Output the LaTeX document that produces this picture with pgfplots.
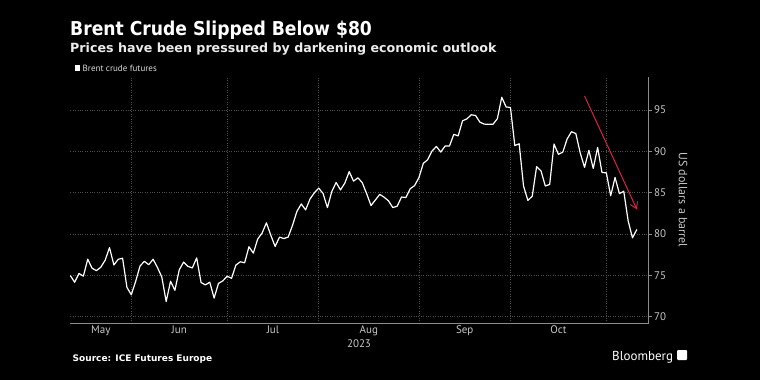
\documentclass[border=0pt]{standalone}
\usepackage{fontspec}
\setmainfont{PT Sans}
\newfontfamily\dvs{DejaVu Sans}
\newfontfamily\dvsc{DejaVu Sans Condensed}
\usepackage{pgfplots}
\pgfplotsset{compat=1.18}
\usetikzlibrary{arrows.meta}
\definecolor{gridc}{HTML}{505050}
\definecolor{axc}{HTML}{8C8C8C}
\definecolor{tickc}{HTML}{C8C8C8}
\definecolor{arrowc}{HTML}{D7263D}
\pgfplotstableread{
x y
0 74.98
1 74.17
2 75.23
3 74.91
4 76.96
5 75.86
6 75.58
7 75.99
8 76.84
9 78.36
10 76.26
11 76.95
12 77.07
13 73.54
14 72.66
15 74.28
16 76.13
17 76.71
18 76.29
19 76.95
20 75.96
21 74.79
22 71.84
23 74.29
24 73.20
25 75.67
26 76.61
27 76.09
28 75.90
29 77.12
30 74.14
31 73.85
32 74.18
33 72.26
34 74.03
35 74.34
36 74.90
37 74.65
38 76.25
39 76.65
40 76.52
41 78.47
42 77.69
43 79.40
44 80.11
45 81.36
46 79.87
47 78.50
48 79.63
49 79.46
50 79.64
51 81.07
52 82.74
53 83.64
54 82.92
55 84.24
56 84.99
57 85.56
58 84.91
59 83.20
60 85.14
61 86.24
62 85.34
63 86.17
64 87.55
65 86.40
66 86.81
67 86.21
68 84.89
69 83.45
70 84.12
71 84.80
72 84.46
73 84.03
74 83.21
75 83.36
76 84.48
77 84.42
78 85.49
79 85.86
80 86.83
81 88.55
82 88.99
83 90.04
84 90.60
85 89.92
86 90.65
87 90.64
88 92.06
89 91.88
90 93.70
91 93.93
92 94.43
93 94.34
94 93.53
95 93.30
96 93.27
97 93.29
98 93.96
99 96.55
100 95.38
101 95.31
102 90.71
103 90.92
104 85.81
105 84.07
106 84.58
107 88.15
108 87.65
109 85.82
110 86.00
111 90.89
112 89.65
113 89.90
114 91.50
115 92.38
116 92.16
117 89.83
118 88.07
119 90.13
120 87.93
121 90.48
122 87.45
123 87.41
124 84.63
125 86.85
126 84.89
127 85.18
128 81.61
129 79.54
130 80.55
}\brent
\begin{document}
\begin{tikzpicture}
\fill[black] (0pt,0pt) rectangle (760pt,-380pt);
\path[use as bounding box] (0pt,0pt) rectangle (760pt,-380pt);
\node[anchor=base west, inner sep=0pt, text=white, font=\dvsc\fontsize{19.1}{22}\selectfont\bfseries] at (70pt,-35pt) {Brent Crude Slipped Below \$80};
\node[anchor=base west, inner sep=0pt, text=white!92!black, font=\dvs\fontsize{12.65}{15}\selectfont\bfseries] at (70pt,-52pt) {Prices have been pressured by darkening economic outlook};
\fill[white] (74.5pt,-65pt) rectangle (80pt,-71pt);
\node[anchor=base west, inner sep=0pt, text=white!85!black, font=\fontsize{9}{11}\selectfont] at (82.5pt,-71pt) {Brent crude futures};
\begin{axis}[
  at={(70.3pt,-323pt)}, anchor=south west,
  scale only axis, width=578.3pt, height=246pt,
  xmin=0, xmax=132.7, ymin=69.24, ymax=99,
  axis x line*=bottom, axis y line*=right,
  axis line style={axc, line width=0.8pt, -},
  clip=false,
  xtick={14,36,57,80,101,123}, xticklabels={},
  xmajorgrids, ymajorgrids,
  major grid style={gridc, dotted, line width=0.6pt},
  x tick style={draw=none},
  ytick={70,75,80,85,90,95},
  y tick style={axc, line width=0.6pt},
  tick align=outside, major tick length=3pt,
  yticklabel style={text=tickc, font=\fontsize{11}{13}\selectfont, xshift=-1pt},
  /pgf/number format/assume math mode=true,
  extra x ticks={7,25,46.5,68.5,90.5,112},
  extra x tick labels={May,Jun,Jul,Aug,Sep,Oct},
  extra x tick style={xmajorgrids=false, major tick length=0pt,
     xticklabel style={text=tickc, font=\fontsize{11}{13}\selectfont, yshift=1pt}},
]
\addplot[white, line width=1.2pt, mark=none, line join=round] table[x=x,y=y] {\brent};
\draw[arrowc, line width=1pt, -{Straight Barb[length=6pt,width=8pt]}] (axis cs:118,96.7) -- (axis cs:130,83.0);
\end{axis}
\node[anchor=base, inner sep=0pt, text=tickc, font=\fontsize{11}{13}\selectfont] at (359pt,-347.5pt) {2023};
\node[rotate=-90, inner sep=0pt, text=tickc, font=\fontsize{12}{14}\selectfont] at (683pt,-200pt) {US dollars a barrel};
\node[anchor=base west, inner sep=0pt, text=white, font=\dvs\fontsize{9}{11}\selectfont\bfseries] at (72.5pt,-361pt) {Source: ICE Futures Europe};
\node[anchor=base west, inner sep=0pt, text=white, font=\fontsize{13}{15}\selectfont] at (612pt,-360pt) {Bloomberg};
\fill[white, rounded corners=1pt] (677pt,-350pt) rectangle (687pt,-360pt);
\end{tikzpicture}
\end{document}
